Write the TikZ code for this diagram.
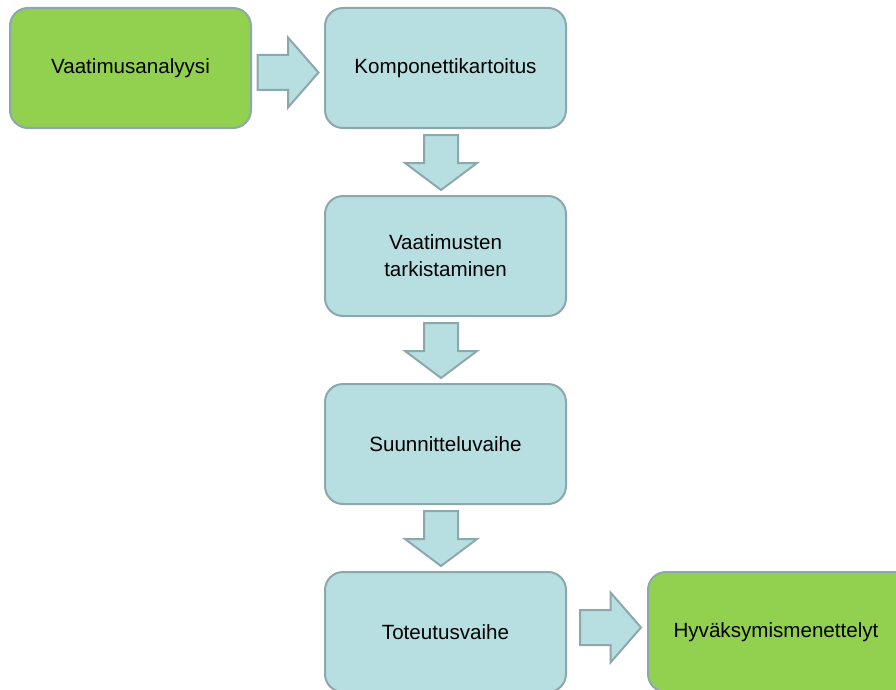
\documentclass[tikz,border=0pt]{standalone}
\usepackage{fontspec}
\setmainfont{Liberation Sans}
\usetikzlibrary{calc}
\definecolor{stepgreen}{HTML}{92D050}
\definecolor{stepblue}{HTML}{B7DEE1}
\definecolor{stepedge}{HTML}{8CA8AC}
\tikzset{
  x=1pt, y=-1pt,
  steptext/.style={font=\fontsize{20.6}{27}\selectfont, text=black, align=center},
  stepbox/.style={draw=stepedge, line width=2pt, rounded corners=18pt,
    minimum width=241pt, minimum height=120pt, inner sep=0pt, steptext},
  bluebox/.style={stepbox, fill=stepblue},
  greenbox/.style={stepbox, fill=stepgreen},
  blockarrow/.style={draw=stepedge, fill=stepblue, line width=2pt, line join=miter},
  pics/arrowright/.style={code={
    \draw[blockarrow] (-30.5,-17.5) -- (0,-17.5) -- (0,-35) -- (30.5,0)
      -- (0,35) -- (0,17.5) -- (-30.5,17.5) -- cycle;}},
  pics/arrowdown/.style={code={
    \draw[blockarrow] (-17,-27.5) -- (17,-27.5) -- (17,0.5) -- (36,0.5)
      -- (0,27.5) -- (-36,0.5) -- (-17,0.5) -- cycle;}},
}
\begin{document}
\begin{tikzpicture}
\useasboundingbox (0,0) rectangle (896,690);
\clip (0,0) rectangle (896,690);
\fill[white] (0,0) rectangle (896,690);

% process steps
\node[greenbox] (va) at (130.5,68) {Vaatimusanalyysi};
\node[bluebox]  (ko) at (445.5,68) {Komponettikartoitus};
\node[bluebox]  (vt) at (445.5,256) {Vaatimusten\\tarkistaminen};
\node[bluebox]  (su) at (445.5,444) {Suunnitteluvaihe};
\node[bluebox]  (to) at (445.5,632) {Toteutusvaihe};
% last step runs past the right edge of the page
\node[greenbox, minimum width=290pt, anchor=west,
      label={[steptext, xshift=-17pt]center:Hyväksymismenettelyt}] (hy) at (647,632) {};

% block arrows between the steps
\pic at ($(va.east)!0.5!(ko.west)+(0,4.5)$) {arrowright};
\pic at ($(ko.south)!0.5!(vt.north)+(-4.5,0.5)$) {arrowdown};
\pic at ($(vt.south)!0.5!(su.north)+(-4.5,0.5)$) {arrowdown};
\pic at ($(su.south)!0.5!(to.north)+(-4.5,0.5)$) {arrowdown};
\pic at ($(to.east)!0.5!(hy.west)+(3.5,-4.5)$) {arrowright};
\end{tikzpicture}
\end{document}
